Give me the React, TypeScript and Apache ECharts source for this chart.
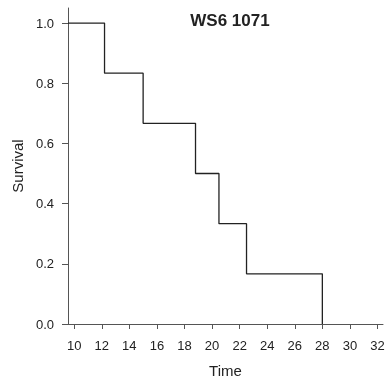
import React, { useEffect, useRef } from "react";
import * as echarts from "echarts";

const titleText = "WS6 1071";
const xName = "Time";
const yName = "Survival";
const xTicks = [10, 12, 14, 16, 18, 20, 22, 24, 26, 28, 30, 32];
const yTicks = [0, 0.2, 0.4, 0.6, 0.8, 1.0];
const xMin = 9.55;
const xMax = 32.4;
const eventTimes = [12.2, 15.0, 18.8, 20.5, 22.5, 28.0];
const survival = [1.0, 0.8333, 0.6667, 0.5, 0.3333, 0.1667, 0.0];

export default function App() {
  const ref = useRef<HTMLDivElement>(null);
  useEffect(() => {
    if (!ref.current) return;
    const chart = echarts.init(ref.current, null, { renderer: "svg" });
    const pts: number[][] = [[xMin, survival[0]]];
    eventTimes.forEach((t, i) => pts.push([t, survival[i + 1]]));
    const axisColor = "#555";
    const font = "Liberation Sans, Arial, sans-serif";
    chart.setOption({
      animation: false,
      title: {
        text: titleText,
        left: 225,
        textAlign: "center",
        top: 7,
        textStyle: { fontFamily: font, fontSize: 17, fontWeight: "bold", color: "#222" },
      },
      grid: { left: 68, right: 5, top: 8, bottom: 59, containLabel: false },
      xAxis: {
        type: "value",
        min: xMin,
        max: xMax,
        name: xName,
        nameLocation: "middle",
        nameGap: 39,
        nameTextStyle: { fontFamily: font, fontSize: 15, color: "#222" },
        splitLine: { show: false },
        axisLine: { show: true, lineStyle: { color: axisColor, width: 1 } },
        axisTick: { show: true, length: 5, customValues: xTicks, lineStyle: { color: axisColor } },
        axisLabel: {
          customValues: xTicks,
          margin: 15,
          fontFamily: font,
          fontSize: 13,
          color: "#222",
        },
      },
      yAxis: {
        type: "value",
        min: 0,
        max: 1.05,
        name: yName,
        nameLocation: "middle",
        nameGap: 42,
        nameTextStyle: { fontFamily: font, fontSize: 15, color: "#222" },
        splitLine: { show: false },
        axisLine: { show: true, lineStyle: { color: axisColor, width: 1 } },
        axisTick: { show: true, length: 6, customValues: yTicks, lineStyle: { color: axisColor } },
        axisLabel: {
          customValues: yTicks,
          margin: 14,
          fontFamily: font,
          fontSize: 13,
          color: "#222",
          formatter: (v: number) => v.toFixed(1),
        },
      },
      series: [
        {
          type: "line",
          step: "end",
          data: pts,
          symbol: "none",
          lineStyle: { color: "#222", width: 1.3 },
          clip: true,
        },
      ],
    });
    return () => chart.dispose();
  }, []);
  return (
    <div
      ref={ref}
      style={{ position: "fixed", left: 0, top: 0, width: 388, height: 383 }}
    />
  );
}
